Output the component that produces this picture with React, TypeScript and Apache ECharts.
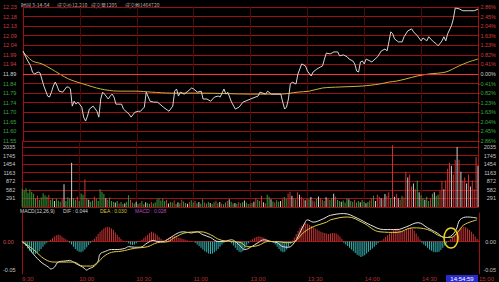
import React, { useEffect, useRef } from "react";
import * as echarts from "echarts";

// ---------- data ----------
const timeLabels = ["9:30", "10:00", "10:30", "11:00", "13:00", "13:30", "14:00", "14:30", "15:00"];
const priceLabels = ["12.23", "12.18", "12.13", "12.09", "12.04", "11.99", "11.94", "11.89", "11.84", "11.79", "11.74", "11.70", "11.65", "11.60", "11.55"];
const pctLabels = ["2.86%", "2.45%", "2.04%", "1.63%", "1.23%", "0.82%", "0.41%", "0.00%", "-0.41%", "-0.82%", "-1.23%", "-1.63%", "-2.04%", "-2.45%", "-2.86%"];
const volLabels = ["291", "582", "872", "1163", "1454", "1745", "2035"];
const macdTicks = [0, -0.05];

const BASE_PRICE = 11.893;
const PRICE_MIN = 11.553;
const PRICE_MAX = 12.233;
const VOL_STEP = 291;
const VOL_MAX = 2240;
const MACD_MIN = -0.0569;
const MACD_MAX = 0.05;

// [minute index, price]
const pricePoints: [number, number][] = [
  [0, 12.01], [2, 11.969], [4, 11.934], [5, 11.903], [6, 11.893], [8, 11.903], [9, 11.898], [11, 11.832],
  [13, 11.781], [14, 11.776], [15, 11.801], [16, 11.832], [17, 11.852], [18, 11.832], [19, 11.806], [21, 11.801],
  [23, 11.827], [24, 11.827], [25, 11.817], [26, 11.73], [27, 11.755], [28, 11.74], [29, 11.75], [31, 11.725],
  [32, 11.674], [33, 11.654], [34, 11.679], [35, 11.715], [37, 11.73], [39, 11.704], [40, 11.674], [41, 11.766],
  [42, 11.801], [43, 11.791], [45, 11.766], [46, 11.781], [47, 11.791], [48, 11.776], [49, 11.74], [50, 11.74],
  [52, 11.74], [53, 11.715], [56, 11.689], [57, 11.674], [59, 11.699], [61, 11.704], [62, 11.704], [64, 11.725],
  [65, 11.801], [67, 11.755], [69, 11.75], [71, 11.75], [74, 11.725], [77, 11.704], [79, 11.73], [80, 11.806],
  [81, 11.817], [82, 11.781], [83, 11.801], [85, 11.791], [87, 11.806], [89, 11.822], [90, 11.817], [92, 11.801],
  [94, 11.806], [95, 11.766], [97, 11.766], [99, 11.755], [101, 11.776], [103, 11.781], [104, 11.776], [106, 11.817],
  [107, 11.791], [108, 11.801], [110, 11.75], [112, 11.715], [114, 11.725], [116, 11.75], [120, 11.766], [124, 11.781],
  [125, 11.801], [128, 11.791], [129, 11.806], [131, 11.791], [136, 11.791], [137, 11.75], [138, 11.715], [139, 11.725],
  [140, 11.766], [141, 11.842], [142, 11.852], [144, 11.842], [145, 11.893], [147, 11.944], [149, 11.934], [150, 11.908],
  [152, 11.883], [153, 11.903], [155, 11.918], [157, 11.929], [158, 11.934], [159, 11.969], [160, 11.999], [162, 11.995],
  [164, 12.005], [166, 12.005], [167, 11.985], [169, 11.99], [171, 11.98], [172, 11.969], [174, 11.959], [175, 11.944],
  [176, 11.908], [177, 11.903], [178, 11.954], [179, 11.959], [180, 11.944], [181, 11.969], [183, 11.959], [184, 11.954],
  [187, 11.98], [188, 11.995], [189, 12.01], [191, 12.02], [192, 12.01], [193, 12.056], [194, 12.107], [195, 12.097],
  [196, 12.071], [198, 12.056], [200, 12.056], [201, 12.082], [203, 12.112], [205, 12.122], [206, 12.107], [208, 12.087],
  [210, 12.061], [211, 12.076], [213, 12.061], [214, 12.082], [216, 12.061], [218, 12.046], [219, 12.036], [221, 12.061],
  [222, 12.082], [223, 12.061], [224, 12.097], [226, 12.138], [227, 12.173], [228, 12.228], [230, 12.224], [232, 12.214],
  [235, 12.214], [238, 12.214], [240, 12.222],
];

const avgPoints: [number, number][] = [
  [0, 12.005], [5, 11.959], [10, 11.944], [15, 11.918], [24, 11.868], [32, 11.842], [41, 11.817], [50, 11.806],
  [59, 11.806], [68, 11.801], [78, 11.796], [94, 11.796], [120, 11.791], [136, 11.791], [145, 11.801], [151, 11.806],
  [158, 11.822], [167, 11.827], [179, 11.832], [188, 11.842], [193, 11.852], [197, 11.857], [202, 11.868], [208, 11.883],
  [214, 11.893], [223, 11.903], [230, 11.934], [235, 11.954], [240, 11.969],
];

const volumes: number[] = [
  620, 560, 640, 480, 600, 520, 450, 300, 380, 250,
  320, 470, 400, 350, 420, 250, 300, 200, 280, 220,
  180, 260, 770, 200, 330, 280, 1500, 300, 250, 350,
  200, 460, 420, 940, 300, 250, 180, 220, 350, 280,
  200, 600, 520, 450, 300, 250, 320, 200, 180, 150,
  200, 120, 170, 100, 130, 180, 400, 250, 150, 120,
  180, 100, 140, 200, 90, 160, 130, 110, 170, 120,
  150, 260, 300, 220, 280, 200, 240, 120, 180, 150,
  220, 100, 160, 130, 250, 190, 140, 110, 170, 230,
  150, 200, 130, 170, 110, 260, 150, 120, 180, 140,
  100, 160, 210, 130, 170, 120, 90, 150, 200, 260,
  180, 120, 140, 110, 170, 130, 160, 220, 150, 100,
  120, 140, 180, 300, 250, 200, 380, 160, 130, 420,
  350, 260, 190, 150, 230, 180, 200, 260, 340, 280,
  450, 520, 380, 300, 260, 500, 420, 350, 280, 230,
  300, 260, 340, 220, 190, 280, 360, 300, 250, 200,
  330, 280, 240, 300, 450, 350, 250, 200, 180, 220,
  150, 300, 260, 200, 180, 240, 150, 200, 160, 240,
  180, 130, 170, 220, 300, 380, 200, 420, 350, 300,
  260, 440, 380, 500, 300, 2100, 350, 450, 300, 250,
  380, 320, 1200, 1000, 1100, 700, 800, 600, 900, 500,
  400, 300, 250, 350, 200, 280, 450, 500, 380, 420,
  550, 870, 600, 900, 1300, 1500, 1400, 1100, 1600, 2035,
  1600, 1200, 900, 1000, 800, 1100, 700, 900, 600, 1700, 1400,
];

const volColors =
  "ggggggggrg" + "ggggrggwgg" + "grwgggwggr" + "gggrgwggrg" + "ggggwrgggw" +
  "grggwggrgg" + "wgrggwggrg" + "ggggggrwgg" + "rgwgrggwrg" + "grgwggrggw" +
  "ggrgwrggrw" + "ggwgrggwgg" + "rgwrggrwrg" + "gwgrggwrgg" + "rrwrgrwrrw" +
  "rgwrrgwrgr" + "wrggwrggwg" + "ggwggrggwg" + "gwggrgwrrw" + "rwrrgrwrwr" +
  "grrwrrwrgw" + "ggwggrgwgg" + "rrwrrrwrrw" + "rwrrwrwrrrw";

const macdBars: number[] = [
  0,
  -0.004, -0.008, -0.012, -0.016, -0.019, -0.021, -0.022, -0.02, -0.017, -0.013, -0.009, -0.005, -0.002,
  0.001, 0.003, 0.006, 0.009, 0.011, 0.012, 0.011, 0.009, 0.006, 0.004, 0.002,
  -0.002, -0.005, -0.009, -0.013, -0.016, -0.018, -0.019, -0.017, -0.014, -0.01, -0.006, -0.002,
  0.002, 0.005, 0.009, 0.013, 0.017, 0.02, 0.023, 0.025, 0.026, 0.025, 0.023, 0.02, 0.016, 0.012, 0.008, 0.005, 0.002, 0.001,
  -0.001, -0.003, -0.005, -0.006, -0.005, -0.003, -0.001,
  0.001, 0.003, 0.006, 0.009, 0.012, 0.015, 0.017, 0.016, 0.014, 0.011, 0.008, 0.005, 0.003,
  0.002, 0.004, 0.006, 0.008, 0.009, 0.009, 0.008, 0.007, 0.006, 0.005, 0.004, 0.003, 0.002, 0.001,
  0.001, 0, -0.002, -0.005, -0.008, -0.011, -0.014, -0.017, -0.019, -0.021, -0.022, -0.021, -0.019, -0.016, -0.013, -0.009, -0.005, -0.002,
  0.002, 0.003, 0.002,
  -0.003, -0.007, -0.011, -0.015, -0.018, -0.019, -0.017, -0.012, -0.007, -0.003,
  0.002, 0.004, 0.006, 0.008, 0.009, 0.009, 0.008, 0.007, 0.005, 0.003, 0.001,
  0, -0.002, -0.005, -0.009, -0.013, -0.017, -0.019, -0.018, -0.014, -0.009, -0.004,
  0.002, 0.007, 0.013, 0.019, 0.024, 0.028, 0.031, 0.032, 0.031, 0.029, 0.027, 0.025, 0.023, 0.021, 0.019, 0.017, 0.016, 0.015, 0.014, 0.013,
  0.014, 0.015, 0.015, 0.014, 0.012, 0.009, 0.005,
  -0.002, -0.005, -0.008, -0.011, -0.014, -0.017, -0.02, -0.023, -0.025, -0.027, -0.026, -0.024, -0.021, -0.018, -0.015, -0.012, -0.009, -0.006, -0.003, -0.001,
  0.002, 0.005, 0.008, 0.011, 0.014, 0.017, 0.02, 0.022, 0.023, 0.021, 0.019, 0.018, 0.019, 0.021, 0.023, 0.024, 0.023, 0.019, 0.014, 0.009, 0.004,
  -0.002, -0.005, -0.008, -0.011, -0.014, -0.016, -0.018, -0.019, -0.019, -0.018, -0.015, -0.011, -0.007, -0.003,
  0.001, 0.004, 0.008, 0.012, 0.016, 0.02, 0.023, 0.025, 0.026, 0.025, 0.023, 0.02, 0.017, 0.013, 0.009, 0.005, 0.002,
];

const difPoints: [number, number][] = [
  [0, 0], [3, -0.009], [6, -0.022], [10, -0.036], [14, -0.045], [15, -0.048], [17, -0.045], [19, -0.036],
  [23, -0.034], [25, -0.033], [27, -0.036], [29, -0.04], [32, -0.045], [34, -0.05], [35, -0.048], [38, -0.043],
  [40, -0.034], [41, -0.022], [44, -0.017], [47, -0.014], [50, -0.014], [54, -0.012], [56, -0.009], [59, -0.01],
  [62, -0.01], [66, -0.002], [69, 0.002], [71, 0], [74, 0], [77, 0.005], [82, 0.015], [85, 0.017],
  [89, 0.015], [92, 0.017], [95, 0.012], [99, 0.007], [103, 0], [106, 0], [110, 0.003], [112, 0],
  [115, -0.009], [117, -0.014], [120, -0.01], [124, -0.002], [127, 0.003], [131, 0], [134, -0.002], [137, -0.009],
  [140, -0.01], [143, -0.002], [145, 0.009], [148, 0.029], [150, 0.038], [153, 0.034], [157, 0.038], [160, 0.043],
  [162, 0.046], [169, 0.049], [176, 0.041], [183, 0.029], [190, 0.021], [197, 0.021], [202, 0.026], [208, 0.033],
  [213, 0.024], [218, 0.015], [222, 0.007], [225, 0.009], [228, 0.021], [230, 0.038], [234, 0.043], [239, 0.041],
];

const deaPoints: [number, number][] = [
  [0, 0], [6, -0.014], [12, -0.031], [17, -0.036], [22, -0.036], [27, -0.036], [32, -0.043], [36, -0.043],
  [40, -0.036], [43, -0.026], [47, -0.019], [52, -0.017], [59, -0.012], [66, -0.009], [71, -0.002], [77, 0],
  [80, 0.007], [87, 0.016], [94, 0.017], [99, 0.012], [104, 0.003], [110, 0], [115, -0.002], [118, -0.009],
  [124, -0.007], [129, 0], [134, 0], [139, -0.002], [143, 0], [148, 0.016], [153, 0.026], [160, 0.034],
  [162, 0.038], [171, 0.043], [179, 0.033], [188, 0.017], [197, 0.016], [205, 0.024], [213, 0.021], [220, 0.009],
  [225, 0.007], [229, 0.017], [232, 0.029], [239, 0.038],
];

// ---------- styles ----------
const GRID_RED = "#a01010";
const DIM_RED = "#520808";
const FONT = "Liberation Sans, Arial, sans-serif";
const CJK = "Noto Sans CJK SC, sans-serif";
const UP = "#d83a3a";
const DOWN = "#3aa83a";
const FLAT = "#cfcfcf";
const VOL_COLOR: Record<string, string> = { r: "#d03434", g: "#3a9a3a", w: "#cfcfcf" };

function App() {
  const ref = useRef<HTMLDivElement>(null);
  useEffect(() => {
    if (!ref.current) return;
    const chart = echarts.init(ref.current, undefined, { renderer: "svg" });
    const rich = {
      u: { color: UP, fontSize: 5.5, fontFamily: FONT },
      z: { color: FLAT, fontSize: 5.5, fontFamily: FONT },
      d: { color: DOWN, fontSize: 5.5, fontFamily: FONT },
    };
    const tag = (v: number) => (v > 0 ? "u" : v < 0 ? "d" : "z");
    const xAxisBase = (i: number) => ({
      type: "value",
      gridIndex: i,
      min: 0,
      max: 240,
      interval: 30,
      axisLine: { show: true, lineStyle: { color: GRID_RED, width: 1 } },
      axisTick: { show: false },
      axisLabel:
        i === 2
          ? {
              show: true,
              formatter: (v: number) => timeLabels[Math.round(v / 30)] ?? "",
              align: "left",
              margin: 2,
              fontSize: 6,
              fontFamily: FONT,
              color: "#b83030",
              showMinLabel: true,
              showMaxLabel: true,
            }
          : { show: false },
      splitLine: { show: i < 2, lineStyle: { color: DIM_RED, width: 1 } },
    });

    const option: any = {
      animation: false,
      backgroundColor: "#000000",
      grid: [
        { left: 21, right: 20, top: 7, height: 134 },
        { left: 21, right: 20, top: 141, height: 66 },
        { left: 21, right: 20, top: 213, height: 62 },
      ],
      xAxis: [xAxisBase(0), xAxisBase(1), xAxisBase(2)],
      yAxis: [
        {
          type: "value", gridIndex: 0, position: "left", min: -7, max: 7, interval: 1,
          axisLine: { show: true, lineStyle: { color: GRID_RED } }, axisTick: { show: false },
          axisLabel: {
            align: "left", margin: 20, rich,
            formatter: (v: number) => `{${tag(v)}|${priceLabels[7 - Math.round(v)] ?? ""}}`,
          },
          splitLine: { show: true, lineStyle: { color: GRID_RED, width: 1 } },
        },
        {
          type: "value", gridIndex: 0, position: "right", min: -7, max: 7, interval: 1,
          axisLine: { show: true, lineStyle: { color: GRID_RED } }, axisTick: { show: false },
          axisLabel: {
            align: "right", margin: 18, rich,
            formatter: (v: number) => `{${tag(v)}|${pctLabels[7 - Math.round(v)] ?? ""}}`,
          },
          splitLine: { show: false },
        },
        { type: "value", gridIndex: 0, position: "left", min: PRICE_MIN, max: PRICE_MAX, show: false },
        {
          type: "value", gridIndex: 1, position: "left", min: 0, max: VOL_MAX, interval: VOL_STEP,
          axisLine: { show: true, lineStyle: { color: GRID_RED } }, axisTick: { show: false },
          axisLabel: {
            align: "right", margin: 7, fontSize: 5.5, fontFamily: FONT, color: "#c8c8c8",
            formatter: (v: number) => {
              const k = Math.round(v / VOL_STEP);
              return v > 0 && Math.abs(v - k * VOL_STEP) < 1 ? volLabels[k - 1] ?? "" : "";
            },
          },
          splitLine: { show: true, lineStyle: { color: GRID_RED, width: 1 } },
        },
        {
          type: "value", gridIndex: 1, position: "right", min: 0, max: VOL_MAX, interval: VOL_STEP,
          axisLine: { show: true, lineStyle: { color: GRID_RED } }, axisTick: { show: false },
          axisLabel: {
            align: "right", margin: 18, fontSize: 5.5, fontFamily: FONT, color: "#c8c8c8",
            formatter: (v: number) => {
              const k = Math.round(v / VOL_STEP);
              return v > 0 && Math.abs(v - k * VOL_STEP) < 1 ? volLabels[k - 1] ?? "" : "";
            },
          },
          splitLine: { show: false },
        },
        {
          type: "value", gridIndex: 2, position: "left", min: MACD_MIN, max: MACD_MAX,
          axisLine: { show: true, lineStyle: { color: GRID_RED } }, axisTick: { show: false },
          axisLabel: {
            customValues: macdTicks, align: "left", margin: 19, fontSize: 5.5, fontFamily: FONT,
            color: (v: any) => (Number(v) === 0 ? "#d05050" : "#c8c8c8"),
            formatter: (v: number) => v.toFixed(2),
          },
          splitLine: { show: false },
        },
        {
          type: "value", gridIndex: 2, position: "right", min: MACD_MIN, max: MACD_MAX,
          axisLine: { show: true, lineStyle: { color: GRID_RED } }, axisTick: { show: false },
          axisLabel: {
            customValues: macdTicks, align: "right", margin: 17, fontSize: 5.5, fontFamily: FONT,
            color: "#c8c8c8",
            formatter: (v: number) => v.toFixed(2),
          },
          splitLine: { show: false },
        },
      ],
      series: [
        {
          name: "price", type: "line", xAxisIndex: 0, yAxisIndex: 2, data: pricePoints,
          symbol: "none", lineStyle: { color: "#d6d6d6", width: 1 }, silent: true,
          markLine: {
            symbol: "none", silent: true, label: { show: false },
            lineStyle: { color: "#ff3030", width: 1, type: "solid" },
            data: [{ yAxis: BASE_PRICE }],
          },
          z: 5,
        },
        {
          name: "avg", type: "line", xAxisIndex: 0, yAxisIndex: 2, data: avgPoints,
          symbol: "none", smooth: 0.3, lineStyle: { color: "#d2b040", width: 1 }, silent: true, z: 4,
        },
        {
          name: "vol", type: "bar", xAxisIndex: 1, yAxisIndex: 3, barWidth: 1,
          data: volumes.map((v, i) => ({ value: [i, v], itemStyle: { color: VOL_COLOR[volColors[i]] || FLAT } })),
          silent: true,
        },
        {
          name: "macd", type: "bar", xAxisIndex: 2, yAxisIndex: 5, barWidth: 1,
          data: macdBars.map((v, i) => ({ value: [i, v], itemStyle: { color: v >= 0 ? "#c83434" : "#34b4b4" } })),
          silent: true,
        },
        {
          name: "DIF", type: "line", xAxisIndex: 2, yAxisIndex: 5, data: difPoints, symbol: "none",
          smooth: 0.4, lineStyle: { color: "#e2e2e2", width: 1 }, silent: true, z: 5,
        },
        {
          name: "DEA", type: "line", xAxisIndex: 2, yAxisIndex: 5, data: deaPoints, symbol: "none",
          smooth: 0.4, lineStyle: { color: "#e0cc40", width: 1 }, silent: true, z: 5,
        },
      ],
      graphic: [
        { type: "text", x: 21, y: 1.5, style: { text: "时间 3-14-54", fill: "#c0c0c0", fontSize: 5, fontFamily: CJK } },
        { type: "text", x: 57, y: 1.5, style: { text: "成交价12.210", fill: "#a8a8a8", fontSize: 5, fontFamily: CJK } },
        { type: "text", x: 91, y: 1.5, style: { text: "成交量1205", fill: "#a8a8a8", fontSize: 5, fontFamily: CJK } },
        { type: "text", x: 125, y: 1.5, style: { text: "成交额1464720", fill: "#a8a8a8", fontSize: 5, fontFamily: CJK } },
        { type: "text", x: 20, y: 208.5, style: { text: "MACD(12,26,9)", fill: "#d0d0d0", fontSize: 5, fontFamily: FONT } },
        { type: "text", x: 63, y: 208.5, style: { text: "DIF : 0.044", fill: "#d0d0d0", fontSize: 5, fontFamily: FONT } },
        { type: "text", x: 100, y: 208.5, style: { text: "DEA : 0.030", fill: "#d8c030", fontSize: 5, fontFamily: FONT } },
        { type: "text", x: 135, y: 208.5, style: { text: "MACD : 0.028", fill: "#c040c8", fontSize: 5, fontFamily: FONT } },
        {
          type: "ellipse", shape: { cx: 451, cy: 238, rx: 7, ry: 10 },
          style: { fill: "none", stroke: "#e8d020", lineWidth: 1.5 }, z: 100,
        },
        { type: "rect", shape: { x: 446, y: 275, width: 32, height: 7 }, style: { fill: "#2a2ac8" }, z: 100 },
        {
          type: "text", x: 462, y: 278.5, z: 101,
          style: { text: "14:54:59", fill: "#ffffff", fontSize: 6, fontFamily: FONT, align: "center", verticalAlign: "middle" },
        },
      ],
    };
    chart.setOption(option);
    return () => chart.dispose();
  }, []);
  return (
    <div
      ref={ref}
      style={{ position: "absolute", left: 0, top: 0, width: 499, height: 282, background: "#000" }}
    />
  );
}

export default App;
